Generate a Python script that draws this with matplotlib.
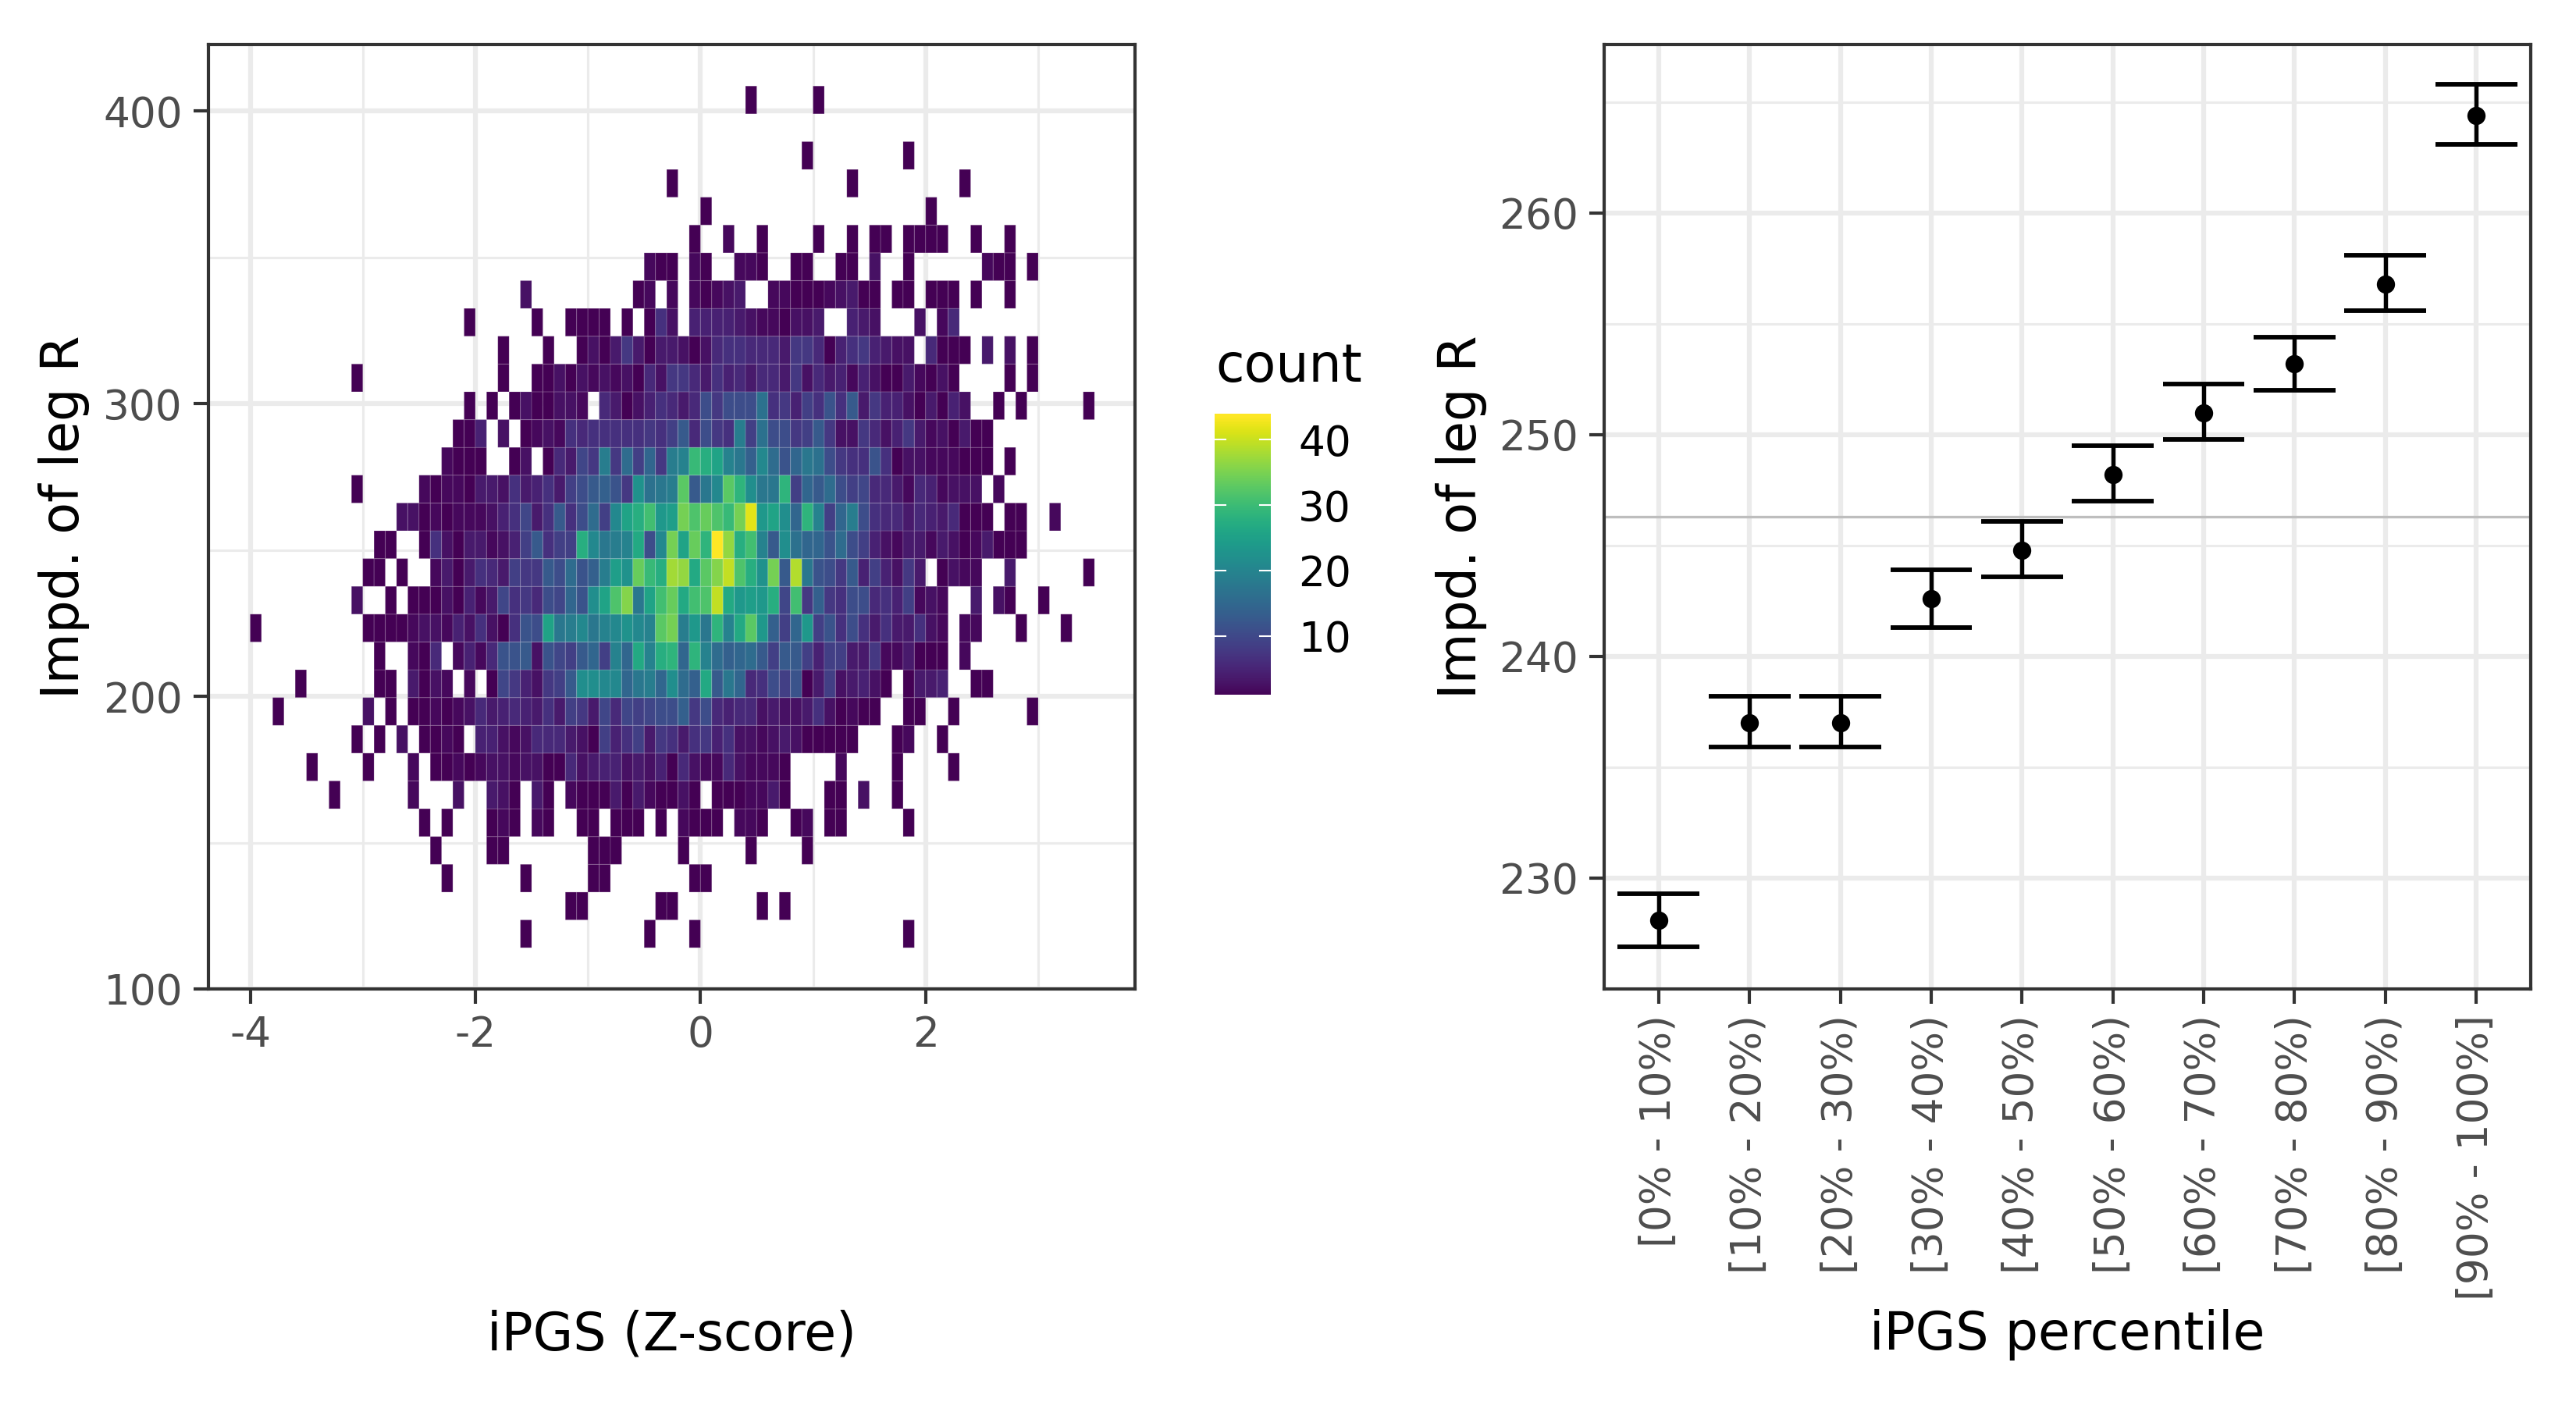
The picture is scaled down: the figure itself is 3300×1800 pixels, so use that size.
import numpy as np
import matplotlib
matplotlib.use("Agg")
import matplotlib.pyplot as plt
from matplotlib.ticker import MultipleLocator, FixedLocator

W, H = 3300, 1800
GRID = "#EBEBEB"
DARK = "#333333"
TICKTXT = "#4D4D4D"

# ---- left panel: 2D histogram counts, rows bottom to top, {column: count} ----
x_bin_start, x_bin_width = -4.0, 0.1
y_bin_start, y_bin_width = 114.1, 9.5
n_cols, n_rows = 76, 31


def run(start, values):
    return dict(enumerate(values, start))


row_00 = {24: 1, 35: 1, 39: 1, 58: 1}
row_01 = {28: 1, 29: 1, 36: 1, 37: 1, 45: 1, 47: 1}
row_02 = {17: 1, 24: 1, 30: 1, 31: 1, 39: 1, 40: 1}
row_03 = {16: 1, 21: 1, 22: 1, 30: 1, 31: 1, 32: 1, 38: 1, 44: 1, 49: 1}
row_04 = {15: 1, 17: 1, 21: 1, 22: 2, 23: 1, 25: 2, 26: 1, 29: 1, 30: 1, 32: 1, 33: 1, 34: 1, 36: 1,
          38: 2, 39: 1, 40: 1, 41: 1, 43: 2, 44: 2, 45: 1, 48: 1, 49: 2, 51: 1, 52: 1, 58: 1}
row_05 = {7: 1, 14: 2, 18: 3, 21: 4, 22: 3, 23: 1, 25: 4, 26: 1, 28: 2, 29: 1, 30: 1, 31: 1, 32: 4,
          33: 1, 34: 4, 35: 2, 36: 1, 37: 1, 38: 3, 39: 1, 41: 1, 42: 1, 43: 1, 44: 2, 45: 2, 46: 4,
          47: 1, 51: 1, 52: 1, 54: 3, 57: 1}
row_06 = {5: 1, 10: 1, 14: 2, 52: 2, 57: 1, 62: 1,
          **run(16, [1, 1, 2, 1, 2, 3, 3, 2, 3, 3, 1, 1, 6, 3, 4, 5, 5, 3, 4, 3, 5, 1, 6, 3, 2, 2, 6, 3, 2, 2, 2, 1])}
row_07 = run(9, [1, 0, 1, 0, 3, 0, 1, 1, 2, 1, 0, 5, 5, 3, 2, 3, 6, 6, 6, 4, 3, 1, 9, 5, 7, 9, 4, 8, 7, 4, 7, 8,
                 5, 7, 3, 3, 2, 3, 4, 3, 1, 1, 1, 1, 1, 0, 0, 0, 1, 2, 0, 0, 1])
row_08 = {2: 1, **run(10, [3, 0, 1, 0, 1, 1, 2, 1, 2, 3, 6, 4, 5, 6, 5, 4, 7, 4, 9, 8, 4, 10, 6, 10, 9, 10, 11, 11,
                           14, 8, 11, 6, 5, 6, 6, 3, 4, 3, 3, 4, 7, 3, 1, 2, 1, 1, 0, 0, 1, 1, 0, 0, 1,
                           0, 0, 0, 0, 0, 0, 1])}
row_09 = {4: 1, **run(11, [1, 1, 0, 4, 1, 3, 2, 0, 2, 0, 1, 10, 8, 5, 3, 8, 9, 13, 22, 22, 21, 21, 15, 18, 19, 15,
                           22, 16, 14, 27, 13, 18, 15, 6, 7, 11, 9, 12, 1, 4, 9, 3, 4, 5, 3, 1, 0, 1, 4, 4, 5,
                           0, 0, 1, 1])}
row_10 = run(11, [1, 0, 0, 2, 1, 6, 0, 2, 5, 2, 6, 12, 12, 13, 3, 12, 10, 9, 13, 15, 9, 20, 15, 27, 20, 28, 29, 15,
                  29, 20, 16, 14, 15, 16, 13, 9, 13, 13, 9, 5, 9, 9, 4, 4, 8, 2, 2, 4, 1, 1, 1, 0, 2])
row_11 = {0: 1, **run(10, [1, 1, 1, 1, 2, 3, 3, 2, 5, 3, 7, 3, 1, 7, 12, 11, 26, 18, 19, 21, 18, 20, 21, 23, 21, 20,
                           33, 35, 19, 24, 18, 29, 20, 27, 33, 24, 14, 9, 15, 24, 9, 12, 7, 11, 7, 4, 7, 4, 4, 7,
                           3, 2, 0, 2, 2, 0, 0, 0, 1, 0, 0, 0, 1])}
row_12 = run(9, [3, 0, 0, 1, 0, 1, 1, 1, 3, 1, 5, 2, 4, 10, 7, 8, 6, 11, 10, 15, 12, 22, 26, 32, 36, 18, 26, 31, 34,
                 27, 31, 32, 40, 27, 24, 25, 24, 28, 10, 31, 8, 14, 8, 7, 11, 11, 6, 7, 5, 9, 2, 3, 2, 0, 0, 4, 0,
                 3, 1, 0, 0, 1])
row_13 = run(10, [1, 1, 0, 1, 0, 0, 2, 4, 1, 4, 7, 6, 4, 9, 8, 8, 13, 11, 16, 12, 14, 19, 25, 23, 34, 30, 28, 38, 37,
                  27, 33, 36, 40, 32, 28, 23, 35, 13, 39, 18, 12, 11, 8, 13, 5, 9, 5, 3, 8, 4, 0, 1, 3, 2, 2, 0, 0,
                  4, 0, 0, 0, 0, 0, 0, 1])
row_14 = run(11, [1, 1, 0, 0, 1, 7, 3, 1, 4, 4, 2, 3, 5, 9, 13, 7, 9, 9, 28, 21, 18, 19, 20, 27, 11, 21, 35, 26, 34,
                  29, 44, 37, 28, 31, 20, 13, 22, 17, 15, 15, 12, 16, 11, 9, 5, 3, 2, 4, 4, 2, 4, 3, 1, 2, 4, 1, 1, 1])
row_15 = run(13, [3, 3, 1, 2, 1, 2, 2, 2, 3, 5, 7, 10, 4, 7, 13, 7, 11, 16, 9, 21, 26, 28, 31, 24, 25, 35, 32, 34,
                  32, 30, 35, 42, 24, 26, 22, 15, 29, 20, 9, 15, 19, 11, 7, 6, 6, 4, 6, 5, 4, 6, 1, 1, 1, 0, 1, 1,
                  0, 0, 2])
row_16 = run(9, [1, 0, 0, 0, 0, 0, 2, 1, 2, 2, 1, 4, 4, 3, 7, 4, 5, 7, 4, 9, 11, 13, 14, 12, 8, 23, 17, 18, 19, 33,
                 13, 18, 21, 33, 29, 22, 18, 18, 29, 9, 15, 13, 16, 11, 9, 10, 6, 6, 4, 2, 6, 5, 2, 3, 3, 3, 0, 2])
row_17 = run(17, [2, 1, 1, 1, 0, 0, 1, 3, 0, 1, 6, 4, 10, 8, 19, 8, 16, 9, 15, 8, 19, 20, 30, 28, 26, 20, 18, 14, 21,
                  16, 12, 15, 18, 17, 11, 8, 7, 7, 12, 7, 1, 3, 3, 2, 2, 2, 1, 1, 1, 0, 1])
row_18 = run(18, [1, 1, 5, 0, 3, 0, 1, 2, 3, 2, 7, 6, 7, 7, 7, 7, 7, 8, 7, 9, 13, 6, 11, 8, 7, 19, 9, 17, 11, 11, 8,
                  9, 13, 8, 3, 3, 8, 6, 3, 5, 8, 4, 2, 3, 1, 4, 1, 1])
row_19 = run(19, [1, 0, 1, 0, 1, 3, 1, 1, 3, 3, 2, 0, 6, 4, 1, 3, 5, 7, 6, 4, 6, 11, 8, 11, 11, 11, 17, 7, 8, 5, 9, 7,
                  12, 7, 13, 4, 8, 5, 5, 3, 1, 4, 1, 5, 3, 0, 0, 1, 0, 1, 0, 0, 0, 0, 0, 1])
row_20 = {9: 1, 22: 1, **run(25, [1, 1, 3, 1, 3, 2, 3, 2, 3, 1, 6, 3, 8, 8, 6, 4, 7, 5, 6, 4, 6, 6, 4, 8, 3, 6, 4, 5,
                                  2, 5, 3, 1, 1, 4, 2, 1, 3, 1, 0, 0, 0, 0, 1, 0, 1])}
row_21 = {22: 1, 26: 1, **run(29, [1, 3, 1, 4, 8, 4, 1, 4, 4, 3, 1, 3, 6, 7, 7, 6, 6, 6, 4, 8, 8, 6, 1, 5, 7, 8, 5, 4,
                                   3, 3, 0, 6, 1, 1, 1, 0, 4, 0, 3, 0, 1])}
row_22 = {19: 1, 25: 1, 28: 1, 29: 1, 30: 1, 31: 1, 33: 1, 35: 1, 36: 7, 37: 3, 39: 5, 40: 5, 41: 5, 42: 5, 43: 4,
          44: 3, 45: 2, 46: 2, 47: 1, 48: 3, 49: 3, 50: 4, 53: 5, 54: 4, 55: 3, 59: 3, 61: 2, 62: 6}
row_23 = {24: 3, 34: 1, 35: 2, 37: 2, 39: 2, 40: 1, 41: 2, 42: 3, 43: 4, 46: 2, 47: 2, 48: 1, 49: 1, 50: 1, 51: 2,
          52: 3, 53: 4, 54: 1, 55: 1, 57: 1, 58: 1, 60: 1, 61: 1, 62: 1, 64: 1, 67: 1}
row_24 = {35: 2, 36: 1, 37: 1, 39: 2, 40: 1, 43: 2, 44: 2, 45: 1, 48: 1, 49: 1, 52: 1, 53: 1, 55: 3, 58: 1,
          65: 2, 66: 1, 67: 1, 69: 1}
row_25 = {39: 1, 42: 2, 45: 1, 50: 1, 53: 1, 55: 1, 56: 1, 58: 1, 59: 1, 60: 1, 61: 1, 64: 1, 67: 1}
row_26 = {40: 1, 60: 1}
row_27 = {37: 1, 53: 1, 63: 1}
row_28 = {49: 1, 58: 1}
row_29 = {}
row_30 = {44: 1, 50: 1}
hist_rows = [row_00, row_01, row_02, row_03, row_04, row_05, row_06, row_07, row_08, row_09, row_10,
             row_11, row_12, row_13, row_14, row_15, row_16, row_17, row_18, row_19, row_20, row_21,
             row_22, row_23, row_24, row_25, row_26, row_27, row_28, row_29, row_30]

# ---- right panel ----
percentile_labels = ["[0% - 10%)", "[10% - 20%)", "[20% - 30%)", "[30% - 40%)", "[40% - 50%)",
                     "[50% - 60%)", "[60% - 70%)", "[70% - 80%)", "[80% - 90%)", "[90% - 100%]"]
mean_values = [228.1, 237.0, 237.0, 242.6, 244.8, 248.2, 251.0, 253.2, 256.8, 264.4]
upper_values = [229.3, 238.2, 238.2, 243.9, 246.1, 249.5, 252.3, 254.4, 258.1, 265.8]
lower_values = [226.9, 235.9, 235.9, 241.3, 243.6, 247.0, 249.8, 252.0, 255.6, 263.1]
overall_mean = 246.3

# ---- drawing ----
plt.rcParams["font.family"] = "DejaVu Sans"
plt.rcParams["axes.unicode_minus"] = False
fig = plt.figure(figsize=(W / 300, H / 300), dpi=300)
TITLE_SIZE, TICK_SIZE = 16.0, 12.8


def axes_px(x0, x1, y0, y1):
    return fig.add_axes([x0 / W, 1 - y1 / H, (x1 - x0) / W, (y1 - y0) / H])


def style(ax):
    ax.set_axisbelow(True)
    for s in ax.spines.values():
        s.set_color(DARK)
        s.set_linewidth(1.0)
    ax.tick_params(which="major", length=4.5, width=1.0, color=DARK, labelcolor=TICKTXT,
                   labelsize=TICK_SIZE, pad=3.5)
    ax.tick_params(which="minor", length=0)
    ax.grid(which="major", color=GRID, linewidth=1.5)
    ax.grid(which="minor", color=GRID, linewidth=0.75)


def place_labels(ax, box, xlabel, ylabel, xlab_y, ylab_x):
    x0, x1, y0, y1 = box
    ax.set_xlabel(xlabel, fontsize=TITLE_SIZE, va="center", color="black")
    ax.set_ylabel(ylabel, fontsize=TITLE_SIZE, va="center", color="black")
    ax.xaxis.set_label_coords(0.5, -(xlab_y - y1) / (y1 - y0))
    ax.yaxis.set_label_coords(-(x0 - ylab_x) / (x1 - x0), 0.5)


# left
box_l = (267, 1454, 57, 1267)
ax1 = axes_px(*box_l)
counts = np.zeros((n_rows, n_cols))
for r, row in enumerate(hist_rows):
    for c, v in row.items():
        counts[r, c] = v
xe = x_bin_start + x_bin_width * np.arange(n_cols + 1)
ye = y_bin_start + y_bin_width * np.arange(n_rows + 1)
mesh = ax1.pcolor(xe, ye, np.ma.masked_equal(counts, 0), cmap="viridis", vmin=1, vmax=44,
                  edgecolors=(1, 1, 1, 0.12), linewidth=0.3)
ax1.set_xlim(-4.371, 3.86)
ax1.set_ylim(100, 422.8)
ax1.xaxis.set_major_locator(FixedLocator([-4, -2, 0, 2]))
ax1.xaxis.set_minor_locator(FixedLocator([-3, -1, 1, 3]))
ax1.yaxis.set_major_locator(FixedLocator([100, 200, 300, 400]))
ax1.yaxis.set_minor_locator(FixedLocator([150, 250, 350]))
style(ax1)
place_labels(ax1, box_l, "iPGS (Z-score)", "Impd. of leg R", 1710, 82)

# colorbar legend
cax = axes_px(1556, 1628, 530, 890)
cb = fig.colorbar(mesh, cax=cax)
cb.set_ticks([10, 20, 30, 40])
cb.outline.set_visible(False)
cb.solids.set_edgecolor("face")
cax.tick_params(length=0, labelsize=TICK_SIZE, labelcolor="black", pad=8.4)
for t in [10, 20, 30, 40]:
    cax.plot([0, 0.2], [t, t], color="white", linewidth=0.5, transform=cax.get_yaxis_transform())
    cax.plot([0.8, 1], [t, t], color="white", linewidth=0.5, transform=cax.get_yaxis_transform())
fig.text(1557 / W, 1 - 470 / H, "count", fontsize=TITLE_SIZE, va="center", ha="left", color="black")

# right
box_r = (2055, 3242, 57, 1267)
ax2 = axes_px(*box_r)
pos = np.arange(len(percentile_labels))
ax2.axhline(overall_mean, color="#BEBEBE", linewidth=0.8, zorder=2)
ax2.vlines(pos, lower_values, upper_values, color="black", linewidth=1.3, zorder=3)
ax2.hlines(upper_values, pos - 0.45, pos + 0.45, color="black", linewidth=1.4, zorder=3)
ax2.hlines(lower_values, pos - 0.45, pos + 0.45, color="black", linewidth=1.4, zorder=3)
ax2.plot(pos, mean_values, "o", color="black", markersize=5.6, markeredgewidth=0, zorder=4)
ax2.set_xlim(-0.6, 9.6)
ax2.set_ylim(225.0, 267.6)
ax2.set_xticks(pos)
ax2.set_xticklabels(percentile_labels, rotation=90, ha="center", va="top")
ax2.yaxis.set_major_locator(MultipleLocator(10))
ax2.yaxis.set_minor_locator(MultipleLocator(5))
style(ax2)
place_labels(ax2, box_r, "iPGS percentile", "Impd. of leg R", 1710, 1872)

fig.savefig("out.png", dpi=300, facecolor="white")
